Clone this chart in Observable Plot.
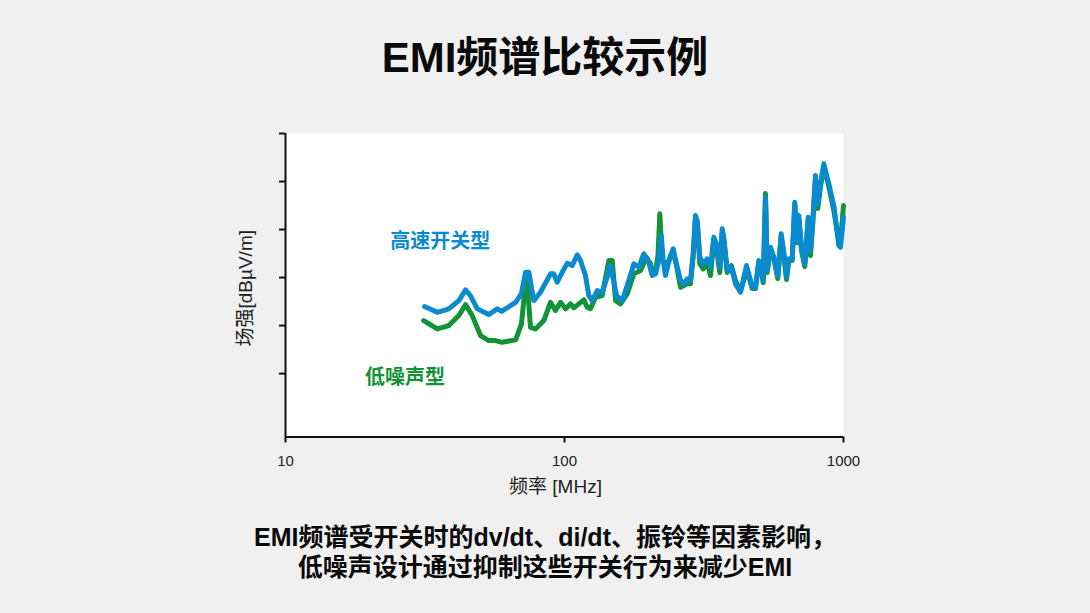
<!DOCTYPE html>
<html>
<head>
<meta charset="utf-8">
<script src="https://cdn.jsdelivr.net/npm/d3@7"></script>
<script src="https://cdn.jsdelivr.net/npm/@observablehq/plot@0.6"></script>
<style>
  html, body { margin: 0; padding: 0; background: #f0f0f0; }
  body { width: 1090px; height: 613px; position: relative; overflow: hidden;
         font-family: "Liberation Sans", "Noto Sans CJK SC", sans-serif; }
  #title { position: absolute; left: 0; width: 1090px; top: 34px; line-height: 48px;
           text-align: center; font-size: 42px; font-weight: bold; color: #0a0a0a; }
  #chart { position: absolute; left: 0; top: 100px; }
  #caption { position: absolute; left: 0; width: 1090px; top: 522px; line-height: 30px;
             text-align: center; font-size: 25px; font-weight: bold; color: #0a0a0a; }
</style>
</head>
<body>
<div id="title">EMI频谱比较示例</div>
<div id="chart"></div>
<div id="caption">EMI频谱受开关时的dv/dt、di/dt、振铃等因素影响，<br>低噪声设计通过抑制这些开关行为来减少EMI</div>
<script>
// ---- data (frequency in MHz, field strength in dBµV/m, arbitrary offset) ----
const xTicks = [10, 100, 1000];
const yTicks = [0, 10, 20, 30, 40, 50];
const yDomain = [-13.2, 50];

const blueName = "高速开关型";
const greenName = "低噪声型";

const blueFreq = [31.5,34.97,38.5,41.8,44.2,46.0,48.7,53.5,57.4,59.5,66.8,70.1,72.5,74.5,77.6,82.0,89.1,91.5,94.1,98.1,
  102.3,106.6,111.1,114.1,118.9,122.2,125.7,131.0,136.5,142.2,145.4,149.5,153.6,161.0,167.8,177.2,184.6,192.4,200.6,206.3,
  212.0,217.8,222.2,225.9,230.1,234.6,239.9,245.3,252.0,260.5,267.7,275.3,282.9,289.3,294.8,299.0,305.5,314.2,324.7,333.7,
  342.9,350.6,360.3,367.5,372.4,383.0,395.8,410.1,427.4,439.3,449.1,457.7,470.8,483.8,497.1,507.0,515.5,525.3,532.7,547.5,
  562.6,581.5,598.0,610.9,624.7,636.7,654.8,669.0,682.3,691.4,707.0,726.5,747.2,761.5,776.2,793.6,808.9,827.1,850.0,885.9,
  923.2,961.9,975.5,1000];
const blueLevel = [13.96,12.77,13.48,15.21,17.44,16.25,13.48,12.29,13.48,12.98,14.85,16.67,21.1,21.1,15.21,16.94,20.77,20.77,19.02,21.1,
  22.98,22.5,24.73,23.54,20.42,16.25,15.21,17.29,16.94,20.06,22.5,19.73,16.25,15.21,18.33,22.85,22.15,24.94,23.1,20.42,
  20.77,23.54,28.75,23.54,20.42,22.5,24.58,25.98,22.85,19.38,18.69,19.73,19.38,24.94,32.92,31.88,24.23,22.85,23.9,22.15,
  28.4,27.02,22.15,30.15,28.4,21.46,22.15,18.69,16.94,20.06,22.5,20.77,17.98,17.98,23.54,22.5,19.38,36.73,21.46,26.31,
  24.23,20.42,29.1,25.27,20.06,23.9,23.9,35.69,27.71,32.92,26.31,22.85,32.56,25.63,31.88,41.25,35.35,39.52,43.69,39.52,
  35.0,26.67,26.31,32.56];

const greenFreq = [31.3,34.97,38.5,41.8,44.2,46.7,50.0,53.5,56.6,59.8,66.8,70.1,73.1,75.5,78.7,84.3,89.1,92.8,96.8,100.8,
  105.1,108.0,117.3,120.6,124.0,129.2,136.5,144.2,148.3,152.4,158.8,167.8,177.2,187.3,196.7,203.3,206.8,212.0,216.3,219.6,
  224.0,230.1,234.6,239.9,245.3,252.0,260.5,267.7,275.3,282.9,289.3,294.8,299.0,305.5,314.2,324.7,333.7,342.9,350.6,360.3,
  367.5,372.4,383.0,396.7,410.1,427.4,439.3,449.1,457.7,470.8,483.8,497.1,507.0,515.5,525.3,532.7,547.5,562.6,581.5,598.0,
  610.9,624.7,636.7,654.8,669.0,682.3,691.4,707.0,726.5,747.2,761.5,776.2,793.6,808.9,827.1,850.0,885.9,923.2,961.9,975.5,1000];
const greenLevel = [11.04,9.31,10.0,12.08,14.38,12.08,7.92,6.88,6.88,6.52,7.02,10.35,21.04,9.65,9.31,11.04,14.85,13.13,14.85,13.48,
  14.52,13.69,15.35,13.81,13.54,15.9,16.25,23.54,23.54,15.21,14.52,16.6,20.77,21.46,24.23,22.85,21.04,21.25,24.58,33.27,
  23.54,22.85,23.1,24.4,25.2,22.5,17.98,18.33,18.75,18.69,24.58,32.5,31.46,22.92,21.81,23.13,20.42,27.71,26.04,21.04,
  29.38,27.71,21.04,22.5,19.38,17.29,19.38,21.88,20.21,17.71,17.71,23.13,22.08,18.96,37.5,21.04,26.04,23.96,19.79,28.54,
  24.79,19.58,23.54,23.54,35.21,27.29,32.29,25.63,22.29,31.88,24.58,31.46,40.63,34.38,38.96,43.13,38.96,33.96,27.71,27.29,35.0];

const labelNames = [blueName, greenName];
const labelFreq = [35.9, 26.8];
const labelLevel = [27.5, -0.8];

// ---- build tables ----
const blue = blueFreq.map((f, i) => ({f, v: blueLevel[i]}));
const green = greenFreq.map((f, i) => ({f, v: greenLevel[i]}));
const labels = labelNames.map((name, i) => ({name, f: labelFreq[i], v: labelLevel[i]}));

const BLUE = "#0a8bd0";
const GREEN = "#109434";

const chart = Plot.plot({
  width: 1090,
  height: 420,
  marginLeft: 285,
  marginRight: 247,
  marginTop: 33,
  marginBottom: 83.5,
  style: {background: "transparent", fontFamily: "'Liberation Sans', 'Noto Sans CJK SC', sans-serif", fontSize: "15px", color: "#111"},
  x: {type: "log", domain: [10, 1000]},
  y: {domain: yDomain},
  marks: [
    Plot.frame({fill: "white", stroke: null}),
    Plot.axisY({ticks: yTicks, tickSize: 6, tickFormat: () => "", label: null, strokeWidth: 2, stroke: "#111"}),
    Plot.axisX({ticks: xTicks, tickSize: 6, tickPadding: 12, tickFormat: d => String(d), label: null, strokeWidth: 2, stroke: "#111", fill: "#222", fontSize: 15}),
    Plot.line(green, {x: "f", y: "v", stroke: GREEN, strokeWidth: 5, strokeLinejoin: "round", strokeLinecap: "round"}),
    Plot.line(blue, {x: "f", y: "v", stroke: BLUE, strokeWidth: 5, strokeLinejoin: "round", strokeLinecap: "round"}),
    Plot.ruleX([10], {stroke: "#111", strokeWidth: 2}),
    Plot.ruleY([yDomain[0]], {stroke: "#111", strokeWidth: 2}),
    Plot.text(labels, {x: "f", y: "v", text: "name", fill: (d) => d.name === blueName ? BLUE : GREEN, fontSize: 20, fontWeight: "bold"}),
    Plot.text(["频率 [MHz]"], {text: d => d, frameAnchor: "bottom", dy: 56, dx: -9, fontSize: 19, fill: "#222"}),
    Plot.text(["场强[dBµV/m]"], {text: d => d, frameAnchor: "left", textAnchor: "middle", dx: -40, dy: 3, rotate: -90, fontSize: 19, fill: "#222"})
  ]
});
document.getElementById("chart").appendChild(chart);
</script>
</body>
</html>
